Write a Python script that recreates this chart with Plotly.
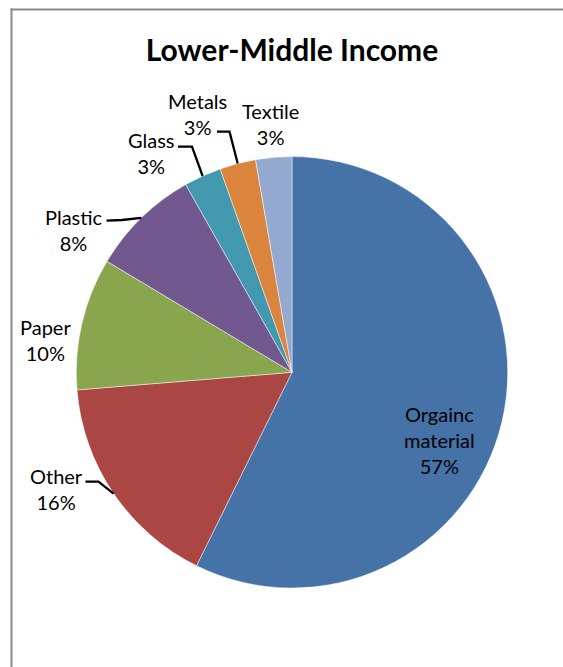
import math
import plotly.graph_objects as go

# ---- data ----
categories = ["Orgainc material", "Other", "Paper", "Plastic", "Glass", "Metals", "Textile"]
values = [57.3, 16.4, 9.9, 8.2, 2.8, 2.7, 2.7]
colors = ["#4572A7", "#AA4643", "#89A54E", "#71588F", "#4198AF", "#DB843D", "#93A9CF"]
title_text = "Lower-Middle Income"

W, H = 563, 667
CX, CY, R = 292.0, 372.3, 215.7   # pie centre / radius in pixels

def px(x):
    return x / W

def py(y):
    return 1 - y / H

fig = go.Figure(go.Pie(
    labels=categories,
    values=values,
    marker=dict(colors=colors, line=dict(color="rgba(255,255,255,0.6)", width=0.8)),
    sort=False,
    direction="clockwise",
    rotation=0,
    textinfo="none",
    hoverinfo="label+percent",
    showlegend=False,
    domain=dict(x=[px(CX - R), px(CX + R)], y=[py(CY + R), py(CY - R)]),
))

total = sum(values)
pct = [round(v / total * 100) for v in values]
# mid angle of each slice (degrees clockwise from 12 o'clock)
mids = []
acc = 0.0
for v in values:
    mids.append((acc + v / 2) / total * 360)
    acc += v

def arc_point(deg, r=R):
    a = math.radians(deg)
    return CX + r * math.sin(a), CY - r * math.cos(a)

# label layout (pixel centres) and leader lines (label-side point, elbow)
label_pos = {
    "Orgainc material": (439, 440),
    "Other": (56, 489),
    "Paper": (45, 340),
    "Plastic": (74, 230),
    "Glass": (151, 153),
    "Metals": (197.5, 114),
    "Textile": (270, 124),
}
leaders = {
    "Metals": [(217, 131.7), (229.5, 131.7)],
    "Glass": [(178, 146.7), (192, 146.7)],
    "Plastic": [(106.5, 220.7), (122, 220)],
    "Other": [(85.5, 481.7), (98.5, 481.7)],
}

annotations = []
for cat, p, m in zip(categories, pct, mids):
    x, y = label_pos[cat]
    name = "Orgainc<br>material" if cat == "Orgainc material" else cat
    annotations.append(dict(
        x=px(x), y=py(y), xref="paper", yref="paper",
        text=f"{name}<br>{p}%", showarrow=False,
        xanchor="center", yanchor="middle", align="center",
        font=dict(family="Lato", size=20, color="#000000"),
    ))

shapes = []
for cat, m in zip(categories, mids):
    if cat in leaders:
        pts = leaders[cat] + [arc_point(m)]
        path = "M " + " L ".join(f"{px(a):.5f},{py(b):.5f}" for a, b in pts)
        shapes.append(dict(type="path", path=path, xref="paper", yref="paper",
                           line=dict(color="#000000", width=2.3)))

# chart frame (only left and top edges are visible in the crop)
frame = dict(color="#8a8a8a", width=2)
shapes.append(dict(type="line", xref="paper", yref="paper",
                   x0=px(11.5), x1=px(11.5), y0=py(8.5), y1=0, line=frame))
shapes.append(dict(type="line", xref="paper", yref="paper",
                   x0=px(10.5), x1=1, y0=py(9.5), y1=py(9.5), line=frame))

fig.update_layout(
    width=W, height=H,
    margin=dict(l=0, r=0, t=0, b=0),
    paper_bgcolor="#ffffff",
    plot_bgcolor="#ffffff",
    title=dict(text=f"<b>{title_text}</b>", x=px(292), y=py(50), xanchor="center", yanchor="middle",
               font=dict(family="Lato", size=30, color="#000000")),
    annotations=annotations,
    shapes=shapes,
)

fig.write_html("out.html")
